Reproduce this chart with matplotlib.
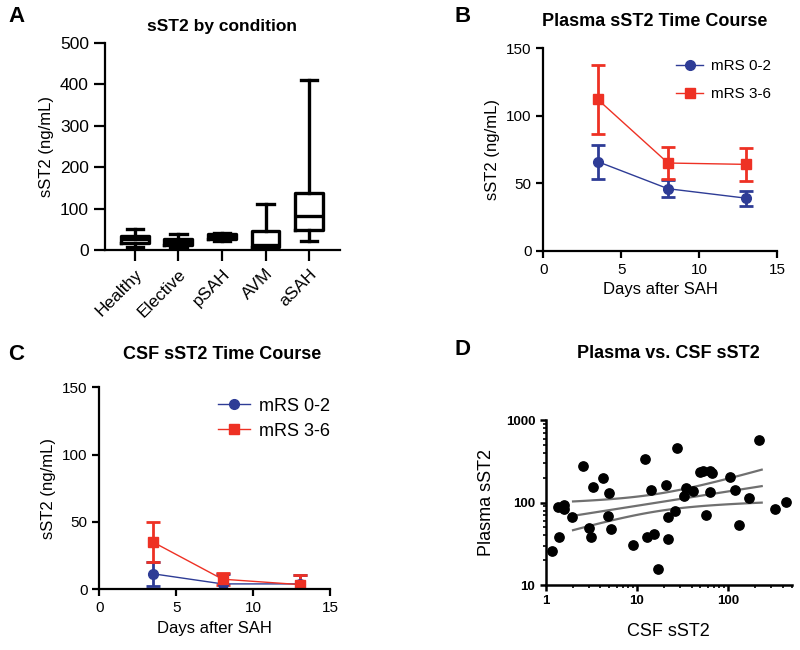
import numpy as np
import matplotlib
matplotlib.use("Agg")
import matplotlib.pyplot as plt
from matplotlib.lines import Line2D
from matplotlib.ticker import FixedLocator, NullFormatter

plt.rcParams['font.family'] = ['Liberation Sans', 'DejaVu Sans']

# ---------------- Data ----------------
# Panel A: box plot summary (ng/mL)
conditions = ["Healthy", "Elective", "pSAH", "AVM", "aSAH"]
box_whislo = [8, 9, 22, 2, 22]
box_q1 = [18, 13, 27, 8, 50]
box_med = [26, 20, 32, 12, 82]
box_q3 = [34, 28, 38, 47, 137]
box_whishi = [52, 38, 42, 111, 410]

# Panels B and C: time course
days = [3.5, 8, 13]
plasma_good = [66, 46, 39]
plasma_good_err = [12.5, 6.5, 5.5]
plasma_poor = [112, 65, 64]
plasma_poor_err = [25.5, 11.5, 12.0]
csf_good = [11.5, 4, 4]
csf_good_err = [9, 7, 6.5]
csf_poor = [35, 7.5, 3.5]
csf_poor_err = [15, 4.5, 7]
legend_labels = ["mRS 0-2", "mRS 3-6"]

# Panel D: scatter (log-log)
csf_sst2 = [1.18, 1.36, 1.41, 1.61, 1.61, 1.94, 2.58, 2.97, 3.12, 3.31,
            4.26, 4.79, 4.99, 5.2, 9.06, 12.4, 12.9, 14.3, 15.3, 17.2,
            20.7, 22.0, 22.0, 26.0, 27.3, 32.6, 35.1, 41.4, 49.3, 53.5,
            57.9, 63.2, 63.7, 67.5, 106, 120, 131, 172, 218, 325, 432]
plasma_sst2 = [25.9, 89.3, 38.6, 93.9, 83, 67, 282, 49.3, 38.6, 156,
               197, 69.4, 132, 47.5, 30.3, 336, 38.6, 142, 41.6, 15.8,
               162, 67.6, 36.6, 80, 460, 120, 152, 137, 238, 243,
               70.7, 243, 136, 227, 203, 142, 53.6, 115, 576, 84, 102]
fit_range = [2, 235]

blue = "#2E3C96"
red = "#EE3124"

fig = plt.figure(figsize=(8, 6.5), dpi=100)

def style(ax, lw=1.6):
    for s in ["top", "right"]:
        ax.spines[s].set_visible(False)
    for s in ["left", "bottom"]:
        ax.spines[s].set_linewidth(lw)
    ax.tick_params(width=lw, direction="out")

def ftitle(x, y, text, fs=12.5):
    fig.text(x / 800, 1 - y / 650, text, fontsize=fs, fontweight="bold",
             ha="center", va="center")

# ---------------- Panel A ----------------
axA = fig.add_axes([0.131, 0.615, 0.294, 0.319])
stats = []
for i, c in enumerate(conditions):
    stats.append(dict(label=c, whislo=box_whislo[i], q1=box_q1[i], med=box_med[i],
                      q3=box_q3[i], whishi=box_whishi[i], fliers=[]))
lwA = 2.4
axA.bxp(stats, positions=np.arange(1, 6), widths=0.64, showfliers=False,
        boxprops=dict(linewidth=lwA, color="black"),
        whiskerprops=dict(linewidth=lwA, color="black"),
        capprops=dict(linewidth=lwA, color="black"),
        medianprops=dict(linewidth=lwA, color="black"), capwidths=0.38)
axA.set_xlim(0.31, 5.71)
axA.set_ylim(0, 500)
style(axA, 1.6)
axA.set_yticks([0, 100, 200, 300, 400, 500])
axA.set_xticks(np.arange(1, 6))
axA.set_xticklabels(conditions, rotation=45, ha="right", rotation_mode="anchor", fontsize=12.5)
axA.tick_params(axis="both", length=8, labelsize=12.5)
axA.set_ylabel("sST2 (ng/mL)", fontsize=12)
ftitle(222, 27, "sST2 by condition", 12.5)

# ---------------- Panels B, C ----------------
def time_panel(rect, good, good_err, poor, poor_err, legfs, leg_anchor, spacing):
    ax = fig.add_axes(rect)
    ax.errorbar(days, good, yerr=good_err, color=blue, marker="o", ms=7,
                lw=1.0, elinewidth=2.0, capsize=5, capthick=2.0)
    ax.errorbar(days, poor, yerr=poor_err, color=red, marker="s", ms=7,
                lw=1.0, elinewidth=2.0, capsize=5, capthick=2.0)
    ax.set_xlim(0, 15)
    ax.set_ylim(0, 150)
    ax.set_xticks([0, 5, 10, 15])
    ax.set_yticks([0, 50, 100, 150])
    style(ax, 1.6)
    ax.tick_params(length=5, labelsize=11)
    ax.set_xlabel("Days after SAH", fontsize=12)
    ax.set_ylabel("sST2 (ng/mL)", fontsize=12)
    handles = [Line2D([], [], color=blue, marker="o", ms=7, lw=1.0),
               Line2D([], [], color=red, marker="s", ms=7, lw=1.0)]
    ax.legend(handles, legend_labels, loc="upper right", frameon=False, fontsize=legfs,
              handlelength=1.8, handletextpad=0.5, labelspacing=spacing,
              bbox_to_anchor=leg_anchor, borderaxespad=0)
    return ax

axB = time_panel([0.679, 0.614, 0.2925, 0.312], plasma_good, plasma_good_err,
                 plasma_poor, plasma_poor_err, 11, (1.0, 0.975), 0.9)
ftitle(655, 22, "Plasma sST2 Time Course", 13)
axC = time_panel([0.124, 0.0934, 0.289, 0.3106], csf_good, csf_good_err,
                 csf_poor, csf_poor_err, 13, (1.03, 0.985), 0.45)
ftitle(222, 355, "CSF sST2 Time Course", 13)

# ---------------- Panel D ----------------
axD = fig.add_axes([0.682, 0.10, 0.3075, 0.2534])
axD.scatter(csf_sst2, plasma_sst2, s=45, color="black", zorder=3)
lx = np.log10(csf_sst2)
ly = np.log10(plasma_sst2)
n = len(lx)
b, a = np.polyfit(lx, ly, 1)
resid = ly - (a + b * lx)
s_err = np.sqrt(np.sum(resid ** 2) / (n - 2))
xf = np.linspace(np.log10(fit_range[0]), np.log10(fit_range[1]), 100)
yf = a + b * xf
tval = 2.0227
ci = tval * s_err * np.sqrt(1 / n + (xf - lx.mean()) ** 2 / np.sum((lx - lx.mean()) ** 2))
for yy in (yf, yf + ci, yf - ci):
    axD.plot(10 ** xf, 10 ** yy, color="#707070", lw=1.6, zorder=2)
axD.set_xscale("log")
axD.set_yscale("log")
axD.set_xlim(1, 500)
axD.set_ylim(10, 1000)
style(axD, 1.8)
axD.tick_params(which="major", length=4, labelsize=9.5)
axD.tick_params(which="minor", length=2.5, width=1.2)
axD.xaxis.set_major_locator(FixedLocator([1, 10, 100]))
axD.yaxis.set_major_locator(FixedLocator([10, 100, 1000]))
axD.xaxis.set_minor_formatter(NullFormatter())
axD.yaxis.set_minor_formatter(NullFormatter())
axD.set_xticklabels(["1", "10", "100"], fontweight="bold")
axD.set_yticklabels(["10", "100", "1000"], fontweight="bold")
axD.set_xlabel("CSF sST2", fontsize=13, labelpad=11)
axD.set_ylabel("Plasma sST2", fontsize=13, labelpad=8)
ftitle(668, 353, "Plasma vs. CSF sST2", 13)

# Panel labels
for lab, x, y in [("A", 0.01, 0.975), ("B", 0.568, 0.975), ("C", 0.01, 0.455), ("D", 0.568, 0.462)]:
    fig.text(x, y, lab, fontsize=16, fontweight="bold", ha="left", va="center")

fig.savefig("out.png", dpi=100)
